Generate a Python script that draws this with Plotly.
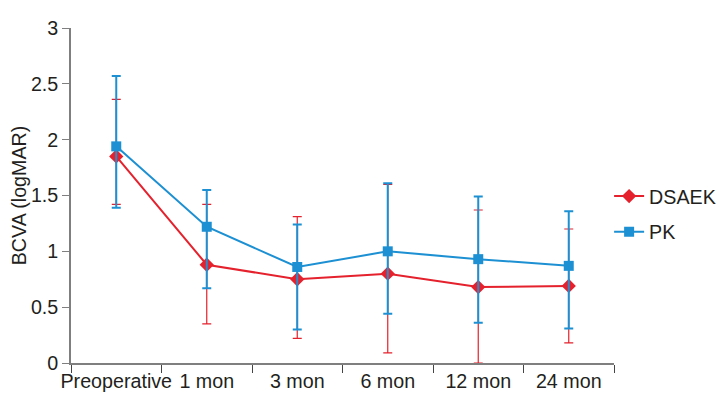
import plotly.graph_objects as go

categories = ["Preoperative", "1 mon", "3 mon", "6 mon", "12 mon", "24 mon"]

dsaek_mean = [1.85, 0.88, 0.75, 0.80, 0.68, 0.69]
dsaek_upper = [2.36, 1.42, 1.31, 1.60, 1.37, 1.20]
dsaek_lower = [1.42, 0.35, 0.22, 0.09, 0.00, 0.18]

pk_mean = [1.94, 1.22, 0.86, 1.00, 0.93, 0.87]
pk_upper = [2.57, 1.55, 1.24, 1.61, 1.49, 1.36]
pk_lower = [1.39, 0.67, 0.30, 0.44, 0.36, 0.31]

y_ticks = [0, 0.5, 1, 1.5, 2, 2.5, 3]
y_tick_text = ["0", "0.5", "1", "1.5", "2", "2.5", "3"]

RED = "#e4212c"
BLUE = "#1c90d2"

def err(mean, up, lo, color, thickness):
    return dict(
        type="data", symmetric=False,
        array=[u - m for u, m in zip(up, mean)],
        arrayminus=[m - l for m, l in zip(mean, lo)],
        thickness=thickness, width=4.5, color=color,
    )

fig = go.Figure()
fig.add_trace(go.Scatter(
    x=categories, y=dsaek_mean, name="DSAEK", mode="lines+markers",
    legendgroup="a",
    line=dict(color=RED, width=2),
    marker=dict(symbol="diamond", size=11, color=RED),
    error_y=err(dsaek_mean, dsaek_upper, dsaek_lower, RED, 1.2),
))
fig.add_trace(go.Scatter(
    x=categories, y=pk_mean, name="PK", mode="lines+markers",
    legendgroup="b",
    line=dict(color=BLUE, width=2),
    marker=dict(symbol="square", size=10, color=BLUE),
    error_y=err(pk_mean, pk_upper, pk_lower, BLUE, 2),
))

FONT = "Liberation Sans, Arial, sans-serif"
FS = 19.7
fig.update_layout(
    width=719, height=405,
    margin=dict(l=63, r=113, t=20, b=50, autoexpand=False),
    paper_bgcolor="white", plot_bgcolor="white",
    font=dict(family=FONT, size=FS, color="#231f20"),
    showlegend=True,
    legend=dict(x=0.991, y=0.556, xanchor="left", yanchor="top",
                font=dict(size=FS), bgcolor="rgba(0,0,0,0)",
                itemwidth=30, traceorder="grouped", tracegroupgap=7),
    xaxis=dict(
        type="category", showgrid=False, zeroline=False,
        showline=True, linecolor="#7f7f7f", linewidth=1.5,
        ticks="outside", tickson="boundaries", ticklen=8,
        tickcolor="#444", tickwidth=1.2, tickangle=0,
        tickfont=dict(size=FS), automargin=False,
        range=[-0.5, 5.5],
    ),
    yaxis=dict(
        range=[0, 3], showgrid=False, zeroline=False,
        showline=True, linecolor="#7f7f7f", linewidth=1.5,
        ticks="outside", ticklen=7, tickcolor="#7f7f7f", tickwidth=1.2,
        tickvals=y_ticks, ticktext=y_tick_text,
        tickfont=dict(size=FS), automargin=False,
        title=dict(text="BCVA (logMAR)", font=dict(size=FS), standoff=6),
    ),
)

fig.write_html("out.html")
